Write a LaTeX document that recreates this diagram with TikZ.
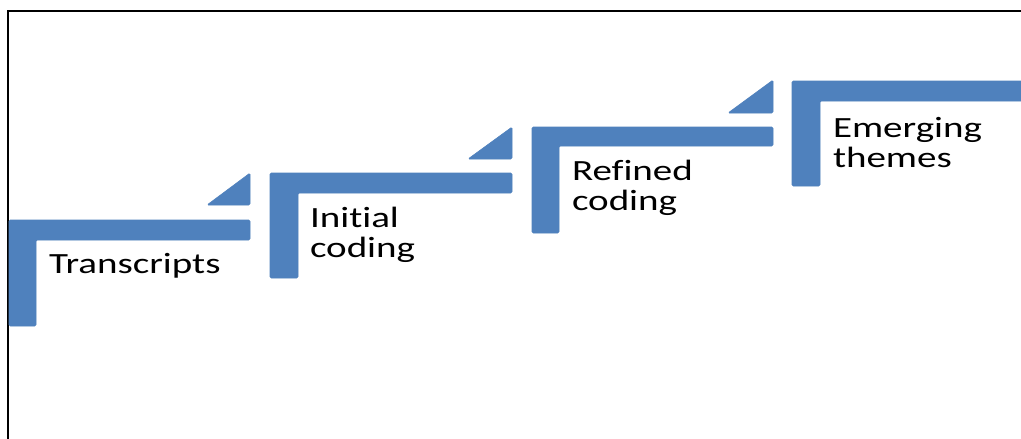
\documentclass[tikz,border=0pt]{standalone}
\usepackage{fontspec}
\setmainfont[Ligatures=NoCommon]{Carlito}
\definecolor{stepblue}{HTML}{4F81BD}
% two stacked lines, baseline on the first one
\newcommand{\pairlines}[2]{\vtop{\baselineskip=22.5pt\hbox{#1}\hbox{#2}}}
\newcommand{\widetext}[1]{\scalebox{1.33}[1]{#1}}
\tikzset{
  stepshape/.style={fill=stepblue, draw=stepblue, line width=0.4pt, rounded corners=1pt},
  steptip/.style={fill=stepblue, draw=stepblue, line width=0.4pt, rounded corners=1pt},
  steplabel/.style={anchor=base west, inner sep=0pt, outer sep=0pt,
    font=\fontsize{22}{22.5}\selectfont, text=black},
  frameline/.style={draw=black, line width=1.6pt}
}
\begin{document}
\begin{tikzpicture}[x=0.75pt, y=-0.75pt]
  \useasboundingbox (0,0) rectangle (1021,439);
  \fill[white] (0,0) rectangle (1021,439);
  % frame of the slide
  \draw[frameline] (8,440) -- (8,11) -- (1022,11);

  % step 1
  \fill[stepshape] (9,220) -- (250,220) -- (250,240) -- (36,240) -- (36,326) -- (9,326) -- cycle;
  \fill[steptip] (207,205) -- (250,173) -- (250,205) -- cycle;
  \node[steplabel] (transcripts) at (49,273) {\widetext{Transcripts}};

  % step 2
  \fill[stepshape] (270,173) -- (512,173) -- (512,193) -- (298,193) -- (298,278) -- (270,278) -- cycle;
  \fill[steptip] (468,159) -- (512,127) -- (512,159) -- cycle;
  \node[steplabel] (initial) at (310,227) {\widetext{\pairlines{Initial}{coding}}};

  % step 3
  \fill[stepshape] (532,127) -- (773,127) -- (773,146) -- (559,146) -- (559,233) -- (532,233) -- cycle;
  \fill[steptip] (728,113) -- (773,80) -- (773,113) -- cycle;
  \node[steplabel] (refined) at (572,180) {\widetext{\pairlines{Refined}{coding}}};

  % step 4
  \fill[stepshape] (792,81) -- (1023,81) -- (1023,101) -- (820,101) -- (820,186) -- (792,186) -- cycle;
  \node[steplabel] (emerging) at (833,137) {\widetext{\pairlines{Emerging}{themes}}};
\end{tikzpicture}
\end{document}
